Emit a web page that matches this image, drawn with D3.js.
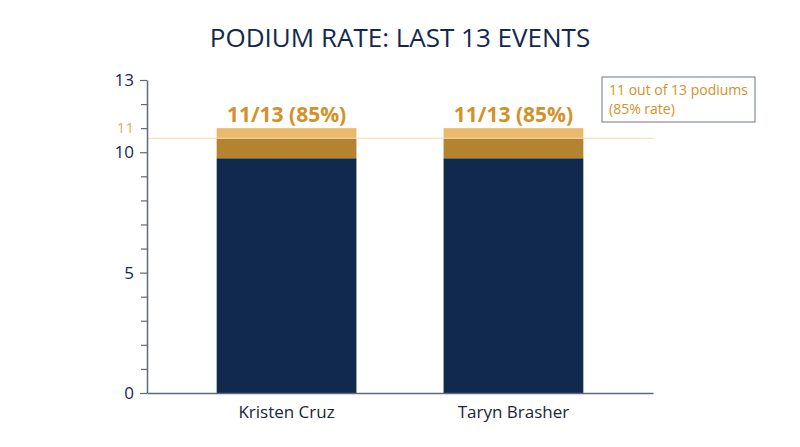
<!DOCTYPE html>
<html>
<head>
<meta charset="utf-8">
<script src="https://cdn.jsdelivr.net/npm/d3@7"></script>
<style>
  body { margin: 0; background: #fff; }
  text { font-family: "Open Sans", sans-serif; }
</style>
</head>
<body>
<div id="chart"></div>
<script>
// Chart data
const athletes = ['Kristen Cruz', 'Taryn Brasher'];
const baseValues = [9.75, 9.75];      // navy segment
const midValues = [10.58, 10.58];     // dark gold segment top
const podiums = [11, 11];             // light gold segment top
const totalEvents = 13;
const barLabels = ['11/13 (85%)', '11/13 (85%)'];
const majorTicks = [0, 5, 10, 13];
const minorTicks = [1, 2, 3, 4, 6, 7, 8, 9, 12];
const highlightTick = 11;
const refLineValue = 10.58;
const noteLines = ['11 out of 13 podiums', '(85% rate)'];

function draw() {
    const dimensions = {
        width: 800,
        height: 447,
        left: 147,
        right: 653,
        top: 80,
        bottom: 393
    };

    const navy = '#11294d';
    const gold = '#d39128';
    const axisColor = '#5b6880';

    const svg = d3.select('#chart')
        .append('svg')
        .attr('width', dimensions.width)
        .attr('height', dimensions.height);

    const x = d3.scaleBand()
        .domain(athletes)
        .range([dimensions.left, dimensions.right])
        .paddingInner(0.384)
        .paddingOuter(0.307);

    const y = d3.scaleLinear()
        .domain([0, totalEvents])
        .range([dimensions.bottom, dimensions.top]);

    // Title
    svg.append('text')
        .attr('x', 400)
        .attr('y', 47)
        .attr('text-anchor', 'middle')
        .attr('font-size', 26)
        .attr('fill', navy)
        .text('PODIUM RATE: LAST 13 EVENTS');

    // Bars: three stacked pieces per athlete
    const rows = athletes.map((name, i) => ({
        name,
        base: baseValues[i],
        mid: midValues[i],
        top: podiums[i],
        label: barLabels[i]
    }));

    const bars = svg.append('g');
    bars.selectAll('rect.base')
        .data(rows)
        .join('rect')
        .attr('class', 'base')
        .attr('x', d => x(d.name))
        .attr('width', x.bandwidth())
        .attr('y', d => y(d.base))
        .attr('height', d => y(0) - y(d.base))
        .attr('fill', navy);

    bars.selectAll('rect.mid')
        .data(rows)
        .join('rect')
        .attr('class', 'mid')
        .attr('x', d => x(d.name))
        .attr('width', x.bandwidth())
        .attr('y', d => y(d.mid))
        .attr('height', d => y(d.base) - y(d.mid))
        .attr('fill', '#b48330');

    bars.selectAll('rect.top')
        .data(rows)
        .join('rect')
        .attr('class', 'top')
        .attr('x', d => x(d.name))
        .attr('width', x.bandwidth())
        .attr('y', d => y(d.top))
        .attr('height', d => y(d.mid) - y(d.top))
        .attr('fill', '#e9ba6c');

    // Reference line
    svg.append('line')
        .attr('x1', dimensions.left)
        .attr('x2', dimensions.right)
        .attr('y1', y(refLineValue))
        .attr('y2', y(refLineValue))
        .attr('stroke', '#f1d9ab')
        .attr('stroke-width', 1);

    // Value labels
    svg.selectAll('text.value')
        .data(rows)
        .join('text')
        .attr('class', 'value')
        .attr('x', d => x(d.name) + x.bandwidth() / 2)
        .attr('y', d => y(d.top) - 6)
        .attr('text-anchor', 'middle')
        .attr('font-size', 21)
        .attr('font-weight', 'bold')
        .attr('fill', gold)
        .text(d => d.label);

    // Y axis
    const yAxis = svg.append('g')
        .attr('transform', `translate(${dimensions.left},0)`)
        .call(d3.axisLeft(y).tickValues(majorTicks).tickSize(7).tickPadding(6).tickSizeOuter(0));
    yAxis.select('.domain').attr('stroke', axisColor).attr('stroke-width', 1.5);
    yAxis.selectAll('.tick line').attr('stroke', axisColor).attr('stroke-width', 1.2);
    yAxis.selectAll('.tick text')
        .attr('font-family', '"Open Sans", sans-serif')
        .attr('font-size', 17)
        .attr('fill', navy);

    const yMinor = svg.append('g')
        .attr('transform', `translate(${dimensions.left},0)`)
        .call(d3.axisLeft(y).tickValues(minorTicks).tickSize(6).tickFormat(''));
    yMinor.select('.domain').remove();
    yMinor.selectAll('.tick line').attr('stroke', axisColor).attr('stroke-width', 1.2);

    const yHigh = svg.append('g')
        .attr('transform', `translate(${dimensions.left},0)`)
        .call(d3.axisLeft(y).tickValues([highlightTick]).tickSize(6).tickPadding(7));
    yHigh.select('.domain').remove();
    yHigh.selectAll('.tick line').attr('stroke', axisColor).attr('stroke-width', 1.2);
    yHigh.selectAll('.tick text')
        .attr('font-family', '"Open Sans", sans-serif')
        .attr('font-size', 15)
        .attr('fill', '#e3ad5c');

    // X axis
    const xAxis = svg.append('g')
        .attr('transform', `translate(0,${dimensions.bottom})`)
        .call(d3.axisBottom(x).tickSize(0).tickPadding(13));
    xAxis.select('.domain').attr('stroke', axisColor).attr('stroke-width', 1.5);
    xAxis.selectAll('.tick text')
        .attr('font-family', '"Open Sans", sans-serif')
        .attr('font-size', 17)
        .attr('fill', '#1b2538');

    // Note box
    const note = svg.append('g').attr('transform', 'translate(602,77)');
    note.append('rect')
        .attr('width', 153)
        .attr('height', 45)
        .attr('fill', '#fff')
        .attr('stroke', '#6b7588')
        .attr('stroke-width', 1);
    note.selectAll('text')
        .data(noteLines)
        .join('text')
        .attr('x', 7)
        .attr('y', (d, i) => 18 + i * 19)
        .attr('font-size', 14)
        .attr('fill', gold)
        .text(d => d);
}

draw();
</script>
</body>
</html>
